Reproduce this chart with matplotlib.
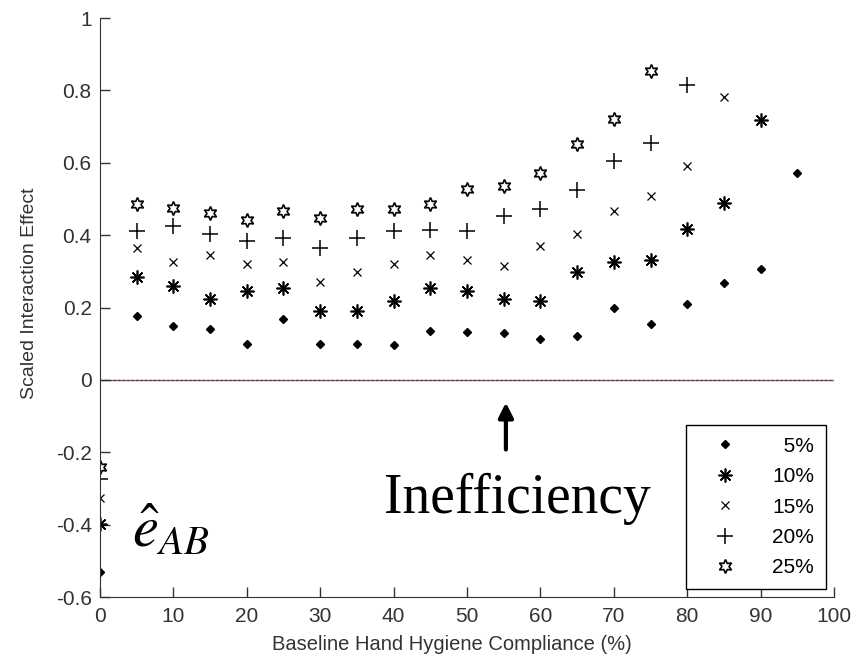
import matplotlib
matplotlib.use("Agg")
import matplotlib.pyplot as plt

# baseline hand hygiene compliance (%)
x_vals = [0, 5, 10, 15, 20, 25, 30, 35, 40, 45, 50, 55, 60, 65, 70, 75, 80, 85, 90, 95]

# scaled interaction effect per improvement level
eff_5 = [-0.53, 0.177, 0.149, 0.141, 0.10, 0.168, 0.10, 0.10, 0.097, 0.135, 0.132,
         0.13, 0.112, 0.12, 0.20, 0.154, 0.21, 0.268, 0.306, 0.572]
eff_10 = [-0.398, 0.284, 0.259, 0.223, 0.246, 0.253, 0.19, 0.19, 0.218, 0.253, 0.247,
          0.223, 0.218, 0.298, 0.326, 0.33, 0.418, 0.489, 0.717]
eff_15 = [-0.327, 0.364, 0.326, 0.345, 0.321, 0.326, 0.27, 0.298, 0.321, 0.345, 0.331,
          0.316, 0.371, 0.404, 0.466, 0.508, 0.592, 0.783]
eff_20 = [-0.274, 0.411, 0.425, 0.402, 0.385, 0.391, 0.364, 0.391, 0.411, 0.415, 0.411,
          0.452, 0.471, 0.526, 0.604, 0.655, 0.816]
eff_25 = [-0.242, 0.486, 0.475, 0.462, 0.443, 0.468, 0.448, 0.471, 0.471, 0.486, 0.528,
          0.535, 0.572, 0.652, 0.722, 0.854]

labels = ["5%", "10%", "15%", "20%", "25%"]
y_ticks = [-0.6, -0.4, -0.2, 0, 0.2, 0.4, 0.6, 0.8, 1]
y_tick_labels = ["-0.6", "-0.4", "-0.2", "0", "0.2", "0.4", "0.6", "0.8", "1"]
x_ticks = [0, 10, 20, 30, 40, 50, 60, 70, 80, 90, 100]

plt.rcParams["font.family"] = ["Liberation Sans", "DejaVu Sans"]
plt.rcParams["mathtext.fontset"] = "stix"

fig = plt.figure(figsize=(8.64, 6.57), dpi=100)
ax = fig.add_axes([0.1157, 0.0913, 0.8496, 0.8813])

# zero reference line
ax.plot([0, 100], [0, 0], color="#9a5a7a", lw=1.0, zorder=1)
ax.plot([0, 100], [0, 0], color="#2a3a2a", lw=0.8, ls=(0, (2, 2)), zorder=1)

series = [eff_5, eff_10, eff_15, eff_20, eff_25]
styles = [
    dict(marker="D", ms=4, mfc="black"),
    dict(marker=(8, 2, 0), ms=10, mfc="black", mew=1.2),
    dict(marker="x", ms=6, mew=0.9),
    dict(marker="+", ms=11, mew=1.1),
    dict(marker=(6, 1, 0), ms=10, mfc="none", mew=1.2),
]
for vals, st, lab in zip(series, styles, labels):
    # pad short labels so they line up on the right like the original legend
    ax.plot(x_vals[:len(vals)], vals, ls="none", color="black", mec="black",
            label=lab.rjust(3, "\u2007"), **st)

ax.set_xlim(0, 100)
ax.set_ylim(-0.6, 1)
ax.set_xticks(x_ticks)
ax.set_yticks(y_ticks)
ax.set_yticklabels(y_tick_labels)
ax.spines["top"].set_visible(False)
ax.spines["right"].set_visible(False)
ax.spines["left"].set_color("#333333")
ax.spines["bottom"].set_color("#333333")
ax.tick_params(direction="in", length=7, width=1, labelsize=15, colors="#333333")
ax.tick_params(axis="x", pad=7)
ax.tick_params(axis="y", pad=6)
ax.set_xlabel("Baseline Hand Hygiene Compliance (%)", fontsize=14.5, color="#333333")
ax.set_ylabel("Scaled Interaction Effect", fontsize=14, color="#333333")
ax.xaxis.set_label_coords(0.48, -0.066)
ax.yaxis.set_label_coords(-0.085, 0.525)

leg = ax.legend(loc="lower right", bbox_to_anchor=(0.989, 0.014), fontsize=15,
                frameon=True, fancybox=False, edgecolor="black", framealpha=1,
                handlelength=2.6, borderpad=0.55, labelspacing=0.55, handletextpad=1.0,
                borderaxespad=0)
leg.get_frame().set_linewidth(1.0)

# annotations
ax.annotate("", xy=(55.3, -0.055), xytext=(55.3, -0.2),
            arrowprops=dict(arrowstyle="-|>", color="black", lw=3, mutation_scale=22))
ax.text(38.7, -0.367, "Inefficiency", fontsize=40, family="Liberation Serif",
        ha="left", va="baseline")
ax.text(4.4, -0.463, r"$\hat{e}_{AB}$", fontsize=42, ha="left", va="baseline")

fig.savefig("out.png", dpi=100)
